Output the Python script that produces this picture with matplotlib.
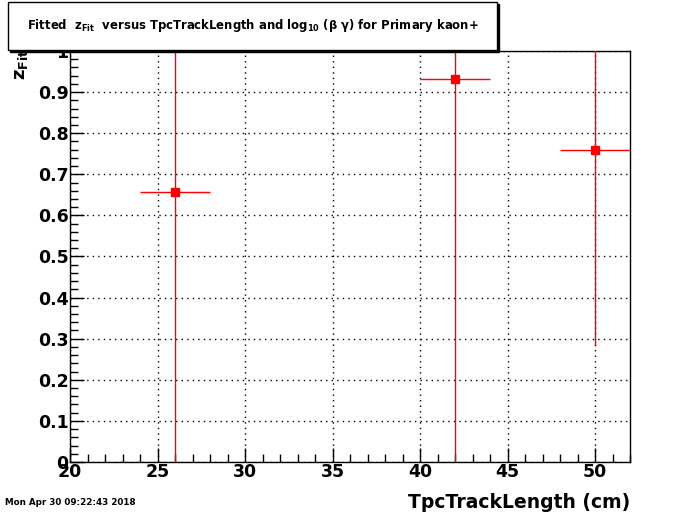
import numpy as np
import matplotlib
matplotlib.use('Agg')
import matplotlib.pyplot as plt
from matplotlib.ticker import MultipleLocator
from matplotlib.patches import Rectangle

# data
track_len = [26, 42, 50]
z_fit = [0.658, 0.932, 0.758]
x_err = [2, 2, 2]
y_err_lo = [1.0, 1.0, 0.476]
y_err_hi = [1.0, 1.0, 1.0]
y_tick_labels = ['0', '0.1', '0.2', '0.3', '0.4', '0.5', '0.6', '0.7', '0.8', '0.9', '1']

plt.rcParams['font.family'] = ['DejaVu Sans']
plt.rcParams['font.weight'] = 'bold'

fig = plt.figure(figsize=(7.0, 5.14), dpi=100)
ax = fig.add_axes([0.1, 0.1012, 0.8, 0.7996])

ax.errorbar(track_len, z_fit, xerr=x_err, yerr=[y_err_lo, y_err_hi],
            fmt='s', color='red', ecolor='red', markersize=6.3,
            elinewidth=1, capsize=0, zorder=3)

ax.set_xlim(20, 52)
ax.set_ylim(0, 1)
ax.xaxis.set_major_locator(MultipleLocator(5))
ax.xaxis.set_minor_locator(MultipleLocator(1))
ax.yaxis.set_minor_locator(MultipleLocator(0.02))
ax.set_yticks(np.arange(0, 1.01, 0.1))
ax.set_yticklabels(y_tick_labels)

ax.tick_params(which='both', direction='in', top=False, right=False,
               labelsize=12.5, width=1)
ax.tick_params(which='major', length=10, pad=1)
ax.tick_params(which='minor', length=6)
for lab in ax.get_xticklabels() + ax.get_yticklabels():
    lab.set_fontweight('bold')

ax.grid(True, which='major', linestyle=(0, (1, 3)), color='black', linewidth=1)
for s in ax.spines.values():
    s.set_linewidth(1)

# axis titles
fig.text(0.9, 0.003, 'TpcTrackLength (cm)', ha='right', va='bottom',
         fontsize=13.5, fontweight='bold')
fig.text(0.03, 0.905, r'$\mathbf{z}_{\mathbf{Fit}}$', rotation=90, ha='center', va='top',
         fontsize=13)
fig.text(0.007, 0.013, 'Mon Apr 30 09:22:43 2018', ha='left', va='bottom',
         fontsize=6.3, fontweight='bold')

# title box with shadow
x0, y0, w, h = 8 / 700, 1 - 50 / 514, 489 / 700, 48 / 514
fig.patches.append(Rectangle((x0 + 0.003, y0 - 0.004), w, h, transform=fig.transFigure,
                             facecolor='black', edgecolor='black', zorder=5))
fig.patches.append(Rectangle((x0, y0), w, h, transform=fig.transFigure,
                             facecolor='white', edgecolor='black', linewidth=1, zorder=6))
fig.text(x0 + w / 2, y0 + h / 2,
         r'Fitted  $\mathbf{z}_{\mathbf{Fit}}$  versus TpcTrackLength and $\mathbf{log}_{\mathbf{10}}$ ($\mathbf{\beta}$ $\mathbf{\gamma}$) for Primary kaon+',
         ha='center', va='center', fontsize=8.4, fontweight='bold', zorder=7)

fig.savefig('out.png', dpi=100)
